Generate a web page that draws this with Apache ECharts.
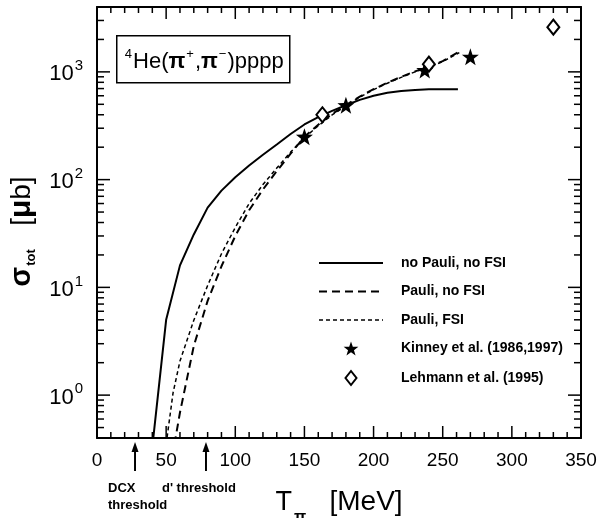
<!DOCTYPE html>
<html>
<head>
<meta charset="utf-8">
<script src="https://cdn.jsdelivr.net/npm/echarts@6/dist/echarts.min.js"></script>
<style>
  html, body { margin: 0; padding: 0; background: #fff; }
  #chart { width: 600px; height: 518px; }
</style>
</head>
<body>
<div id="chart"></div>
<script>
// ---- data: pion kinetic energy T_pi (MeV) and total cross section (microbarn) ----
const noPauliE     = [40, 50, 60, 70, 80, 90, 100, 110, 120, 130, 140, 150, 160, 170, 180, 190, 200, 210, 220, 230, 240, 250, 261];
const noPauliSigma = [0.33, 5.0, 16, 31, 55, 79, 105, 135, 170, 212, 265, 325, 380, 435, 490, 550, 600, 640, 665, 680, 688, 690, 690];

const pauliE       = [56, 60, 70, 80, 90, 100, 110, 120, 130, 140, 150, 160, 170, 180, 190, 200, 210, 220, 230, 240, 250, 262];
const pauliSigma   = [0.35, 0.69, 2.86, 7.5, 15.7, 30, 52, 81, 120, 174, 250, 323, 407, 492, 590, 690, 795, 900, 1010, 1120, 1260, 1540];

const pauliFsiE     = [50, 55, 60, 70, 80, 90, 100, 110, 120, 130, 140, 150, 160, 170, 180, 190, 200, 210, 220, 230, 240, 250, 262];
const pauliFsiSigma = [0.35, 1.05, 2.07, 4.96, 10.4, 20.5, 36, 60, 90, 128, 180, 245, 316, 398, 484, 582, 684, 785, 890, 1000, 1110, 1245, 1510];

const kinneyE      = [150, 180, 237, 270];
const kinneySigma  = [250, 490, 1040, 1380];
const lehmannE     = [163, 240, 330];
const lehmannSigma = [400, 1180, 2600];

const seriesNames = ['no Pauli, no FSI', 'Pauli, no FSI', 'Pauli, FSI',
                     'Kinney et al. (1986,1997)', 'Lehmann et al. (1995)'];

const thresholdE     = [27.5, 78.8];
const thresholdTexts = ['DCX\nthreshold', "d' threshold"];

const xRange     = [0, 350];
const xStep      = 50;
const xMinorStep = 10;
const sigmaRange = [0.4, 4000];
const yDecades   = [0, 1, 2, 3];   // exponents labelled as 10^n

// ---- helpers ----
const FONT = '"Liberation Sans", Arial, Helvetica, sans-serif';
const black = '#000';
const LOG_MIN = Math.log10(sigmaRange[0]);
const LOG_MAX = Math.log10(sigmaRange[1]);

// log-axis minor ticks (2..9 x 10^n) expressed in decades
const minorLogTicks = [];
for (let n = -1; n <= 3; n++) {
  for (let k = 2; k <= 9; k++) {
    const v = n + Math.log10(k);
    if (v >= LOG_MIN - 1e-9 && v <= LOG_MAX + 1e-9) minorLogTicks.push(v);
  }
}

// tick marks on all four frame sides: [side, value, length]
// side 0 = bottom, 1 = top, 2 = left, 3 = right
const frameTicks = [];
for (let x = xRange[0]; x <= xRange[1] + 1e-9; x += xMinorStep) {
  const len = (Math.abs(x % xStep) < 1e-9) ? 12 : 6;
  frameTicks.push([0, x, len], [1, x, len]);
}
yDecades.forEach(v => frameTicks.push([2, v, 13], [3, v, 13]));
minorLogTicks.forEach(v => frameTicks.push([2, v, 7], [3, v, 7]));

const toLogPairs = (xs, ys) => xs.map((x, i) => [x, Math.log10(ys[i])]);

const STAR = 'path://M0,-10L2.35,-3.24L9.51,-3.09L3.8,1.24L5.88,8.09L0,4L-5.88,8.09L-3.8,1.24L-9.51,-3.09L-2.35,-3.24Z';
const DIAMOND = 'path://M0,-7L5.5,0L0,7L-5.5,0Z';

function xAxisDef(position, withLabels) {
  return {
    type: 'value', position: position, min: xRange[0], max: xRange[1], interval: xStep,
    axisLine: { show: true, onZero: false, lineStyle: { color: black, width: 2 } },
    axisTick: { show: false },
    minorTick: { show: false },
    axisLabel: withLabels
      ? { show: true, margin: 13, fontSize: 19, color: black, fontFamily: FONT }
      : { show: false },
    splitLine: { show: false }, minorSplitLine: { show: false },
    name: withLabels ? '{m|T}{sub|π}{mev|   [MeV]}' : '',
    nameLocation: 'middle', nameGap: 50,
    nameTextStyle: {
      padding: [0, 0, 0, 0],
      rich: {
        m:   { fontSize: 27, color: black, fontFamily: FONT, verticalAlign: 'bottom', padding: [0, 0, 10, 0] },
        mev: { fontSize: 28, color: black, fontFamily: FONT, verticalAlign: 'bottom', padding: [0, 0, 10, 0] },
        sub: { fontSize: 16, fontWeight: 'bold', color: black, fontFamily: FONT, verticalAlign: 'bottom', padding: [0, 0, 0, 2] }
      }
    }
  };
}

function yAxisDef(position, withLabels) {
  const ax = {
    type: 'value', position: position, min: LOG_MIN, max: LOG_MAX,
    axisLine: { show: true, onZero: false, lineStyle: { color: black, width: 2 } },
    axisTick: { show: false },
    axisLabel: { show: false },
    splitLine: { show: false }
  };
  if (withLabels) {
    ax.axisLabel = {
      show: true, margin: 14, customValues: yDecades,
      formatter: v => '{b|10}{s|' + Math.round(v) + '}',
      rich: {
        b: { fontSize: 22, color: black, fontFamily: FONT, verticalAlign: 'bottom' },
        s: { fontSize: 15, color: black, fontFamily: FONT, verticalAlign: 'bottom', padding: [0, 0, 12, 1] }
      }
    };
    ax.name = '{sig|σ}{sub|tot}{br|   [}{mu|μ}{br|b]}';
    ax.nameLocation = 'middle';
    ax.nameRotate = 90;
    ax.nameGap = 58;
    ax.nameTextStyle = {
      padding: [0, 18, 0, 0],
      rich: {
        sig: { fontSize: 29, fontWeight: 'bold', color: black, fontFamily: FONT, verticalAlign: 'bottom', padding: [0, 0, 2, 0] },
        sub: { fontSize: 13, fontWeight: 'bold', color: black, fontFamily: FONT, verticalAlign: 'bottom', padding: [0, 0, 0, 1] },
        br:  { fontSize: 28, color: black, fontFamily: FONT, verticalAlign: 'bottom', padding: [0, 0, 2, 0] },
        mu:  { fontSize: 30, fontWeight: 'bold', color: black, fontFamily: FONT, verticalAlign: 'bottom', padding: [0, 0, 2, 0] }
      }
    };
  }
  return ax;
}

const chart = echarts.init(document.getElementById('chart'), null, { renderer: 'canvas' });

const lineBase = { type: 'line', xAxisIndex: 0, yAxisIndex: 0, symbol: 'none', clip: true,
                   emphasis: { disabled: true }, silent: true };
const hiddenDot = { opacity: 0 };

chart.setOption({
  animation: false,
  backgroundColor: '#fff',
  grid: { left: 97, right: 19, top: 7, bottom: 80, containLabel: false, outerBoundsMode: 'none' },
  xAxis: [xAxisDef('bottom', true), xAxisDef('top', false)],
  yAxis: [yAxisDef('left', true), yAxisDef('right', false)],
  legend: {
    orient: 'vertical', left: 318, top: 256, padding: 0,
    itemWidth: 64, itemHeight: 14, itemGap: 14.5,
    selectedMode: false,
    textStyle: { fontSize: 14, fontWeight: 'bold', color: black, fontFamily: FONT, padding: [0, 0, 0, 13] },
    data: [
      { name: seriesNames[0], itemStyle: hiddenDot, lineStyle: { color: black, width: 2, type: 'solid' } },
      { name: seriesNames[1], itemStyle: hiddenDot, lineStyle: { color: black, width: 2, type: [8, 5] } },
      { name: seriesNames[2], itemStyle: hiddenDot, lineStyle: { color: black, width: 1.5, type: [4, 3] } },
      { name: seriesNames[3], icon: STAR, itemStyle: { color: black, opacity: 1 } },
      { name: seriesNames[4], icon: DIAMOND, itemStyle: { color: '#fff', borderColor: black, borderWidth: 2, opacity: 1 } }
    ]
  },
  series: [
    Object.assign({}, lineBase, { name: seriesNames[0], data: toLogPairs(noPauliE, noPauliSigma),
      lineStyle: { color: black, width: 2, type: 'solid' }, itemStyle: { color: black } }),
    Object.assign({}, lineBase, { name: seriesNames[1], data: toLogPairs(pauliE, pauliSigma),
      lineStyle: { color: black, width: 2, type: [8, 5] }, itemStyle: { color: black } }),
    Object.assign({}, lineBase, { name: seriesNames[2], data: toLogPairs(pauliFsiE, pauliFsiSigma),
      lineStyle: { color: black, width: 1.5, type: [4, 3] }, itemStyle: { color: black } }),
    { name: seriesNames[3], type: 'scatter', xAxisIndex: 0, yAxisIndex: 0,
      data: toLogPairs(kinneyE, kinneySigma), symbol: STAR, symbolSize: 17,
      itemStyle: { color: black, opacity: 1 }, emphasis: { disabled: true }, silent: true, z: 5 },
    { name: seriesNames[4], type: 'scatter', xAxisIndex: 0, yAxisIndex: 0,
      data: toLogPairs(lehmannE, lehmannSigma), symbol: DIAMOND, symbolSize: [12, 15],
      itemStyle: { color: '#fff', borderColor: black, borderWidth: 2, opacity: 1 },
      emphasis: { disabled: true }, silent: true, z: 5 },
    // inward tick marks along the frame
    { type: 'custom', name: 'frame ticks', xAxisIndex: 0, yAxisIndex: 0, clip: false, silent: true, z: 4,
      data: frameTicks,
      renderItem: function (params, api) {
        const side = api.value(0), v = api.value(1), len = api.value(2);
        let p, d;
        if (side === 0)      { p = api.coord([v, LOG_MIN]);     d = [0, -len]; }
        else if (side === 1) { p = api.coord([v, LOG_MAX]);     d = [0, len]; }
        else if (side === 2) { p = api.coord([xRange[0], v]);   d = [len, 0]; }
        else                 { p = api.coord([xRange[1], v]);   d = [-len, 0]; }
        return { type: 'line',
                 shape: { x1: p[0], y1: p[1], x2: p[0] + d[0], y2: p[1] + d[1] },
                 style: { stroke: black, lineWidth: 1.5 } };
      } }
  ]
});

// reaction label box and threshold arrows under the energy axis
function drawAnnotations() {
  const axisY = chart.convertToPixel({ yAxisIndex: 0 }, LOG_MIN);
  const elements = [{
    type: 'group', left: 116, top: 35, children: [
      { type: 'rect', shape: { x: 0, y: 0, width: 173, height: 47 },
        style: { fill: '#fff', stroke: black, lineWidth: 1.5 } },
      { type: 'text', x: 87, y: 25,
        style: {
          text: '{s|4}{m|He(}{p|π}{s|+}{m|,}{p|π}{s|−}{m|)pppp}',
          align: 'center', verticalAlign: 'middle',
          rich: {
            m: { fontSize: 22, fill: black, fontFamily: FONT, verticalAlign: 'bottom' },
            p: { fontSize: 22, fontWeight: 'bold', fill: black, fontFamily: FONT, verticalAlign: 'bottom' },
            s: { fontSize: 13, fill: black, fontFamily: FONT, verticalAlign: 'bottom', padding: [0, 1, 12, 1] }
          }
        } }
    ]
  }];
  const textOffsets = [-27, -44];
  thresholdE.forEach((e, i) => {
    const x = chart.convertToPixel({ xAxisIndex: 0 }, e);
    elements.push(
      { type: 'line', shape: { x1: x, y1: axisY + 8, x2: x, y2: axisY + 33 },
        style: { stroke: black, lineWidth: 2 } },
      { type: 'polygon', shape: { points: [[x - 3.5, axisY + 14], [x, axisY + 4], [x + 3.5, axisY + 14]] },
        style: { fill: black } },
      { type: 'text', x: x + textOffsets[i], y: axisY + 42,
        style: { text: thresholdTexts[i], fontSize: 13, fontWeight: 'bold', fill: black,
                 fontFamily: FONT, lineHeight: 17, align: 'left', verticalAlign: 'top' } }
    );
  });
  chart.setOption({ graphic: elements });
}
drawAnnotations();
</script>
</body>
</html>
